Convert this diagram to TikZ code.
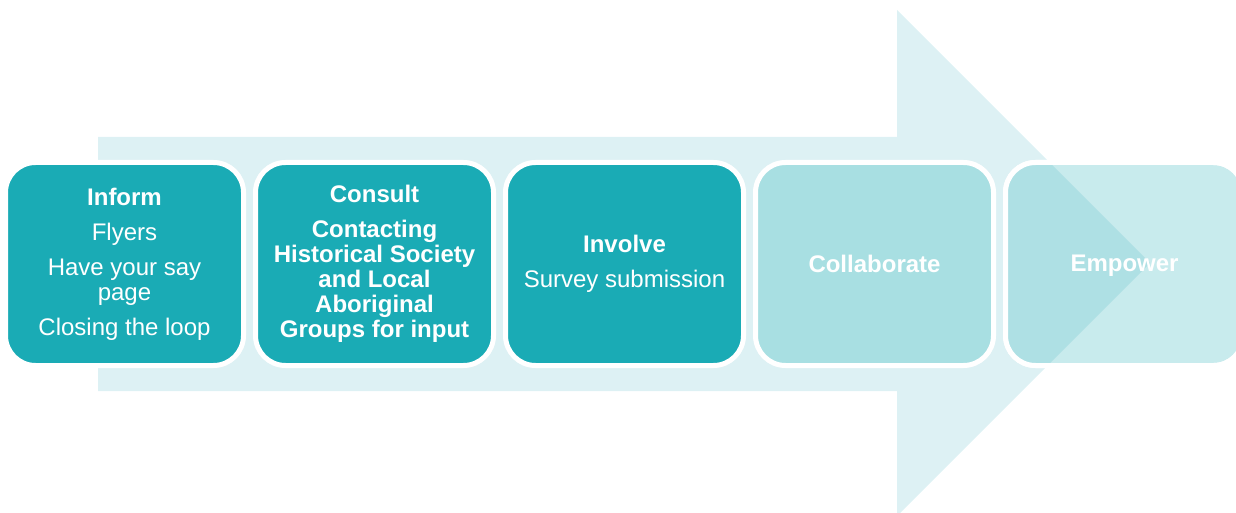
\documentclass[tikz,border=0pt]{standalone}
\usepackage{fontspec}
\setmainfont{Liberation Sans}
\usetikzlibrary{positioning}

\definecolor{arrowbg}{HTML}{DDF1F4}
\definecolor{tealdark}{HTML}{1AABB5}
\definecolor{tealsoft}{HTML}{A8DFE2}
\definecolor{tealpale}{HTML}{C8EBED}
\definecolor{tealmix}{HTML}{AEE0E4}

\begin{document}
\begin{tikzpicture}[x=1pt, y=-1pt,
    stepbox/.style={draw=white, line width=5pt, rounded corners=30pt,
      minimum width=238pt, minimum height=203pt, inner sep=0pt, outer sep=0pt,
      text=white, align=center, font=\fontsize{24}{25}\selectfont}]
    \useasboundingbox (0,0) rectangle (1236,513);

    % Big arrow behind the steps
    \fill[arrowbg] (98,137) -- (897,137) -- (897,10) -- (1150,263)
      -- (897,516) -- (897,391) -- (98,391) -- cycle;

    % Steps
    \node[stepbox, fill=tealdark] (inform) at (124.5,264)
      {\textbf{Inform}\\[10pt] Flyers\\[10pt] Have your say\\ page\\[10pt] Closing the loop};
    \node[stepbox, fill=tealdark, right=12pt of inform] (consult)
      {\textbf{Consult}\\[10pt] \textbf{Contacting}\\ \textbf{Historical Society}\\
       \textbf{and Local}\\ \textbf{Aboriginal}\\ \textbf{Groups for input}};
    \node[stepbox, fill=tealdark, right=12pt of consult] (involve)
      {\textbf{Involve}\\[10pt] Survey submission};
    \node[stepbox, fill=tealsoft, right=12pt of involve] (collab)
      {\textbf{Collaborate}};
    \node[stepbox, fill=tealpale, right=12pt of collab] (empower) {};

    % Arrow tip seen through the last step
    \begin{scope}
      \clip[rounded corners=30pt] (empower.south west) rectangle (empower.north east);
      \fill[tealmix] (897,10) -- (1150,263) -- (897,516) -- cycle;
    \end{scope}
    \draw[white, line width=5pt, rounded corners=30pt]
      (empower.south west) rectangle (empower.north east);
    \node[text=white, font=\fontsize{24}{25}\selectfont\bfseries, yshift=-2pt] (empowertext)
      at (empower.center) {Empower};
\end{tikzpicture}
\end{document}
